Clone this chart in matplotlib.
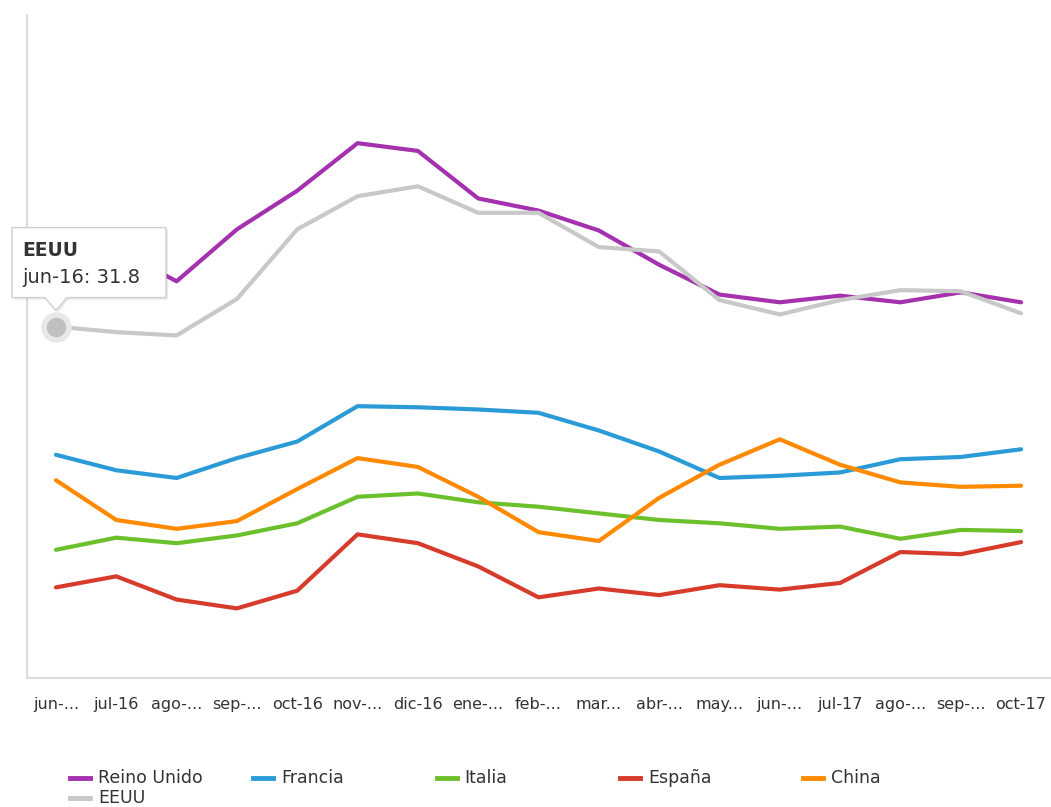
#!/usr/bin/env python3
# -*- coding: utf-8 -*-
"""Evolución mensual por país, jun-16 a oct-17 (gráfico de líneas con tooltip)."""

import numpy as np
import matplotlib
matplotlib.use('Agg')
import matplotlib.pyplot as plt
from matplotlib.patches import Polygon
from matplotlib.lines import Line2D

# etiquetas del eje x (tal como aparecen, recortadas)
months = ['jun-...', 'jul-16', 'ago-...', 'sep-...', 'oct-16', 'nov-...', 'dic-16', 'ene-...',
          'feb-...', 'mar...', 'abr-...', 'may...', 'jun-...', 'jul-17', 'ago-...', 'sep-...', 'oct-17']

reino_unido = [38.3, 38.8, 35.9, 40.6, 44.1, 48.4, 47.7, 43.4, 42.3, 40.5, 37.4, 34.7, 34.0, 34.6, 34.0, 34.9, 34.0]
francia = [20.2, 18.8, 18.1, 19.9, 21.4, 24.6, 24.5, 24.3, 24.0, 22.4, 20.5, 18.1, 18.3, 18.6, 19.8, 20.0, 20.7]
italia = [11.6, 12.7, 12.2, 12.9, 14.0, 16.4, 16.7, 15.9, 15.5, 14.9, 14.3, 14.0, 13.5, 13.7, 12.6, 13.4, 13.3]
espana = [8.2, 9.2, 7.1, 6.3, 7.9, 13.0, 12.2, 10.1, 7.3, 8.1, 7.5, 8.4, 8.0, 8.6, 11.4, 11.2, 12.3]
china = [17.9, 14.3, 13.5, 14.2, 17.1, 19.9, 19.1, 16.4, 13.2, 12.4, 16.3, 19.3, 21.6, 19.3, 17.7, 17.3, 17.4]
eeuu = [31.8, 31.3, 31.0, 34.3, 40.6, 43.6, 44.5, 42.1, 42.1, 39.0, 38.6, 34.2, 32.9, 34.2, 35.1, 35.0, 33.0]

series_names = ['Reino Unido', 'Francia', 'Italia', 'España', 'China', 'EEUU']
series_values = [reino_unido, francia, italia, espana, china, eeuu]
series_colors = ['#a431ad', '#2b9bd8', '#6cc02c', '#d63b2b', '#ff8a00', '#c8c8c8']

W, H = 1051, 807
fig = plt.figure(figsize=(W / 100, H / 100), dpi=100)
ax = fig.add_axes([27 / W, 1 - 678 / H, (1050 - 27) / W, (678 - 15) / H])

x = np.arange(len(months))
for name, vals, col in zip(series_names, series_values, series_colors):
    ax.plot(x, vals, color=col, lw=3.0, solid_capstyle='round', solid_joinstyle='round', zorder=3)

ax.set_xlim(-0.48, len(months) - 1 + 0.48)
ax.set_ylim(0, 60)
ax.set_yticks([])
ax.set_xticks(x)
ax.set_xticklabels(months, fontsize=11.5, color='#333333')
ax.tick_params(axis='x', length=0, pad=14)
for s in ['top', 'right']:
    ax.spines[s].set_visible(False)
ax.spines['left'].set_color('#dcdcdc')
ax.spines['bottom'].set_color('#dcdcdc')
ax.spines['left'].set_linewidth(1.5)
ax.spines['bottom'].set_linewidth(1.5)

# punto resaltado + tooltip (en píxeles relativos al punto)
ax.plot([0], [eeuu[0]], 'o', ms=22, color='#e8e8e8', mec='none', zorder=4, clip_on=False)
ax.plot([0], [eeuu[0]], 'o', ms=14, color='#c0c0c0', mec='none', zorder=5, clip_on=False)

fig.canvas.draw()
px, py = ax.transData.transform((0, eeuu[0]))
to_fig = fig.transFigure.inverted()


def fpt(dx, dy):
    return to_fig.transform((px + dx, py + dy))


box_l, box_r, box_b, box_t = -44, 110, 29, 99
tip = (0, 16)
outline = [(box_l, box_b), (-11, box_b), tip, (11, box_b), (box_r, box_b),
           (box_r, box_t), (box_l, box_t)]
shadow = Polygon([fpt(a + 2, b - 2) for a, b in outline], closed=True, transform=fig.transFigure,
                 facecolor='#000000', alpha=0.08, edgecolor='none', zorder=6, clip_on=False)
box = Polygon([fpt(a, b) for a, b in outline], closed=True, transform=fig.transFigure,
              facecolor='white', edgecolor='#cfcfcf', lw=1.0, zorder=7, clip_on=False)
ax.add_patch(shadow)
ax.add_patch(box)
tx, ty = fpt(box_l + 10, 76)
fig.text(tx, ty, 'EEUU', fontsize=13.5, fontweight='bold', color='#333333', va='center', zorder=8)
tx, ty = fpt(box_l + 10, 49)
fig.text(tx, ty, 'jun-16: 31.8', fontsize=14, color='#333333', va='center', zorder=8)

# leyenda manual en columnas fijas
for i, (name, col) in enumerate(zip(series_names, series_colors)):
    cx = 70 + (i % 5) * 183.3
    cy = 778 + (i // 5) * 20
    fig.add_artist(Line2D([cx / W, (cx + 20) / W], [1 - cy / H, 1 - cy / H], color=col, lw=3.5,
                          transform=fig.transFigure))
    fig.text((cx + 28) / W, 1 - cy / H, name, fontsize=12.5, color='#333333', va='center')

fig.savefig('out.png', dpi=100)
